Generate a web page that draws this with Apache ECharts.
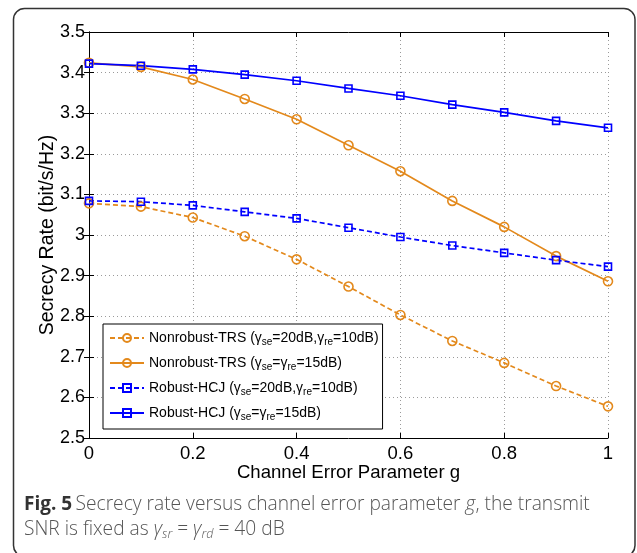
<!DOCTYPE html>
<html>
<head>
<meta charset="utf-8">
<script src="https://cdn.jsdelivr.net/npm/echarts@6/dist/echarts.min.js"></script>
<style>
html,body{margin:0;padding:0;background:#fff;}
#chart{width:637px;height:553px;}
</style>
</head>
<body>
<div id="chart"></div>
<script>
// ---- data ----
const gValues = [0, 0.1, 0.2, 0.3, 0.4, 0.5, 0.6, 0.7, 0.8, 0.9, 1.0];
const nonrobustTRS_20_10 = [3.078, 3.070, 3.043, 2.997, 2.940, 2.873, 2.803, 2.739, 2.685, 2.628, 2.578];
const nonrobustTRS_15 = [3.424, 3.414, 3.383, 3.335, 3.285, 3.221, 3.157, 3.084, 3.020, 2.948, 2.886];
const robustHCJ_20_10 = [3.084, 3.082, 3.073, 3.057, 3.041, 3.018, 2.995, 2.974, 2.956, 2.938, 2.922];
const robustHCJ_15 = [3.422, 3.417, 3.408, 3.395, 3.380, 3.361, 3.343, 3.321, 3.302, 3.281, 3.264];
const seriesNames = [
  'Nonrobust-TRS (γse=20dB,γre=10dB)',
  'Nonrobust-TRS (γse=γre=15dB)',
  'Robust-HCJ (γse=20dB,γre=10dB)',
  'Robust-HCJ (γse=γre=15dB)'
];
const legendLabels = [
  '{n|Nonrobust-TRS (γ}{s|se}{n|=20dB,γ}{s|re}{n|=10dB)}',
  '{n|Nonrobust-TRS (γ}{s|se}{n|=γ}{s|re}{n|=15dB)}',
  '{n|Robust-HCJ (γ}{s|se}{n|=20dB,γ}{s|re}{n|=10dB)}',
  '{n|Robust-HCJ (γ}{s|se}{n|=γ}{s|re}{n|=15dB)}'
];
const xTickValues = [0, 0.2, 0.4, 0.6, 0.8, 1];
const xTickLabels = ['0', '0.2', '0.4', '0.6', '0.8', '1'];
const yTickValues = [2.5, 2.6, 2.7, 2.8, 2.9, 3.0, 3.1, 3.2, 3.3, 3.4, 3.5];
const yTickLabels = ['2.5', '2.6', '2.7', '2.8', '2.9', '3', '3.1', '3.2', '3.3', '3.4', '3.5'];
const xAxisTitle = 'Channel Error Parameter g';
const yAxisTitle = 'Secrecy Rate (bit/s/Hz)';

const ORANGE = '#E3891C';
const BLUE = '#0000FF';
const FONT = 'Liberation Sans, Arial, sans-serif';
const CAP = '#555';

function lookup(vals, labels, v) {
  for (let i = 0; i < vals.length; i++) if (Math.abs(vals[i] - v) < 1e-6) return labels[i];
  return '';
}
function mk(data, name, color, dashed, symbol, size) {
  return {
    type: 'line', name: name,
    data: gValues.map((g, i) => [g, data[i]]),
    color: color,
    symbol: symbol, symbolSize: size,
    lineStyle: { color: color, width: 1.7, type: dashed ? [5, 3] : 'solid' },
    itemStyle: { color: 'rgba(255,255,255,0)', borderColor: color, borderWidth: 1.6 },
    emphasis: { disabled: true },
    animation: false
  };
}
const chart = echarts.init(document.getElementById('chart'), null, { renderer: 'canvas' });
const gridLine = { show: true, lineStyle: { color: '#9a9a9a', type: [1, 3], width: 1 } };
const option = {
  animation: false,
  grid: { left: 89, right: 29, top: 32, bottom: 115 },
  xAxis: [{
    type: 'value', min: 0, max: 1, interval: 0.2,
    axisLine: { lineStyle: { color: '#000', width: 1 } },
    axisTick: { inside: true, length: 5, lineStyle: { color: '#000' } },
    axisLabel: { color: '#000', fontFamily: FONT, fontSize: 18.5, margin: 6,
      formatter: v => lookup(xTickValues, xTickLabels, v) },
    splitLine: gridLine,
    name: xAxisTitle, nameLocation: 'middle', nameGap: 25, nameMoveOverlap: false,
    nameTextStyle: { color: '#000', fontFamily: FONT, fontSize: 18.6 }
  }, {
    type: 'value', position: 'top', min: 0, max: 1, interval: 0.2,
    axisLine: { lineStyle: { color: '#000', width: 1 } },
    axisTick: { inside: true, length: 5, lineStyle: { color: '#000' } },
    axisLabel: { show: false }, splitLine: { show: false }
  }],
  yAxis: [{
    type: 'value', min: 2.5, max: 3.5, interval: 0.1,
    axisLine: { show: true, lineStyle: { color: '#000', width: 1 } },
    axisTick: { show: true, inside: true, length: 5, lineStyle: { color: '#000' } },
    axisLabel: { color: '#000', fontFamily: FONT, fontSize: 18, margin: 4,
      formatter: v => lookup(yTickValues, yTickLabels, v) },
    splitLine: gridLine,
    name: yAxisTitle, nameLocation: 'middle', nameGap: 31, nameMoveOverlap: false,
    nameTextStyle: { color: '#000', fontFamily: FONT, fontSize: 19.5 }
  }, {
    type: 'value', position: 'right', min: 2.5, max: 3.5, interval: 0.1,
    axisLine: { show: true, lineStyle: { color: '#000', width: 1 } },
    axisTick: { show: true, inside: true, length: 5, lineStyle: { color: '#000' } },
    axisLabel: { show: false }, splitLine: { show: false }
  }],
  legend: {
    orient: 'vertical', left: 103, top: 324,
    backgroundColor: '#fff', borderColor: '#000', borderWidth: 1,
    padding: [5, 4, 7, 6],
    itemWidth: 34, itemHeight: 10, itemGap: 7,
    data: seriesNames,
    formatter: name => legendLabels[seriesNames.indexOf(name)],
    textStyle: {
      rich: {
        n: { fontFamily: FONT, fontSize: 14, color: '#000', lineHeight: 16 },
        s: { fontFamily: FONT, fontSize: 10, color: '#000', lineHeight: 16, padding: [8, 0, 0, 0] }
      }
    }
  },
  graphic: [
    { type: 'rect', shape: { x: 13.5, y: 8.5, width: 621.5, height: 548, r: 11 },
      style: { fill: 'none', stroke: '#333', lineWidth: 1.5 }, silent: true, z: 100 },
    { type: 'text', left: 24, top: 495,
      style: {
        text: '{b|Fig. 5} {n|Secrecy rate versus channel error parameter }{i|g}{n|, the transmit}',
        rich: {
          b: { fontFamily: 'Open Sans', fontSize: 19, fontWeight: 'bold', fill: '#333' },
          n: { fontFamily: 'Open Sans', fontSize: 19.2, fontWeight: 300, fill: CAP },
          i: { fontFamily: 'Open Sans', fontSize: 19.2, fontWeight: 300, fontStyle: 'italic', fill: CAP }
        }
      } },
    { type: 'text', left: 24, top: 518,
      style: {
        text: '{n|SNR is fixed as }{i|γ}{is|sr}{n| = }{i|γ}{is|rd}{n| = 40 dB}',
        rich: {
          n: { fontFamily: 'Open Sans', fontSize: 19.2, fontWeight: 300, fill: CAP, lineHeight: 24 },
          i: { fontFamily: 'Open Sans', fontSize: 19.2, fontWeight: 300, fontStyle: 'italic', fill: CAP, lineHeight: 24 },
          is: { fontFamily: 'Open Sans', fontSize: 12.5, fontWeight: 300, fontStyle: 'italic', fill: CAP, lineHeight: 24, padding: [10, 0, 0, 0] }
        }
      } }
  ],
  series: [
    mk(nonrobustTRS_20_10, seriesNames[0], ORANGE, true, 'circle', 9),
    mk(nonrobustTRS_15, seriesNames[1], ORANGE, false, 'circle', 9),
    mk(robustHCJ_20_10, seriesNames[2], BLUE, true, 'rect', 7),
    mk(robustHCJ_15, seriesNames[3], BLUE, false, 'rect', 7)
  ]
};
chart.setOption(option);
</script>
</body>
</html>
